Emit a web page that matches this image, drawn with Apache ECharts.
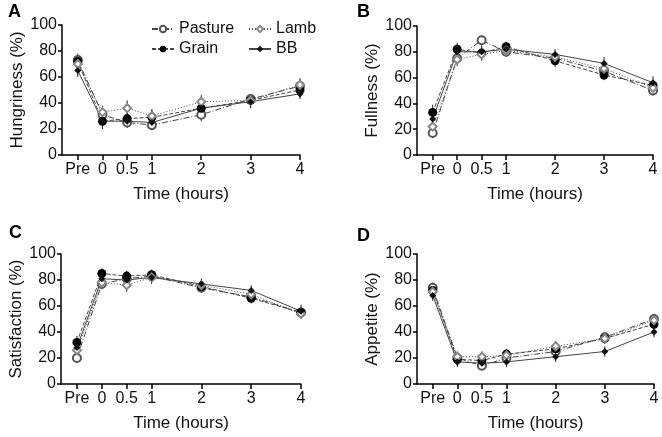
<!DOCTYPE html>
<html>
<head>
<meta charset="utf-8">
<script src="https://cdn.jsdelivr.net/npm/echarts@6/dist/echarts.min.js"></script>
<style>html,body{margin:0;padding:0;background:#fff}#c{width:662px;height:437px}</style>
</head>
<body>
<div id="c"></div>
<script>
// ---- data ----
const panelLetters = ['A', 'B', 'C', 'D'];
const yNames = ['Hungriness (%)', 'Fullness (%)', 'Satisfaction (%)', 'Appetite (%)'];
const xName = 'Time (hours)';
const times = [-0.5, 0, 0.5, 1, 2, 3, 4];
const timeLabels = ['Pre', '0', '0.5', '1', '2', '3', '4'];
const groups = ['Pasture', 'Grain', 'Lamb', 'BB'];

// Hungriness
const hungerPasture = [73, 31, 25, 23, 31, 43, 53];
const hungerGrain   = [72, 26, 28, 29, 36, 42, 50];
const hungerLamb    = [70, 33, 36, 30, 41, 42, 54];
const hungerBB      = [65, 26, 26, 25, 36, 41, 47];
const hungerPastureErr = [5, 5, 4, 4, 5, 4, 4];
const hungerGrainErr   = [5, 6, 5, 6, 5, 5, 5];
const hungerLambErr    = [5, 5, 6, 5, 5, 4, 5];
const hungerBBErr      = [5, 5, 5, 5, 5, 5, 4];
// Fullness
const fullPasture = [17, 75, 89, 80, 75, 65, 50];
const fullGrain   = [33, 82, 79, 84, 73, 62, 54];
const fullLamb    = [22, 74, 78, 81, 76, 67, 52];
const fullBB      = [28, 80, 80, 82, 78, 71, 56];
const fullPastureErr = [4, 4, 3, 4, 4, 4, 4];
const fullGrainErr   = [6, 5, 5, 4, 5, 4, 4];
const fullLambErr    = [5, 5, 5, 4, 4, 4, 4];
const fullBBErr      = [5, 5, 5, 4, 4, 5, 5];
// Satisfaction
const satPasture = [20, 77, 81, 83, 74, 67, 55];
const satGrain   = [32, 85, 83, 84, 75, 66, 55];
const satLamb    = [26, 78, 76, 82, 76, 69, 54];
const satBB      = [28, 81, 80, 82, 77, 72, 56];
const satPastureErr = [4, 4, 4, 4, 4, 4, 4];
const satGrainErr   = [5, 4, 4, 4, 4, 4, 4];
const satLambErr    = [4, 4, 5, 4, 4, 4, 4];
const satBBErr      = [5, 5, 4, 5, 4, 4, 5];
// Appetite
const appPasture = [74, 20, 14, 20, 25, 36, 50];
const appGrain   = [72, 19, 18, 23, 27, 35, 46];
const appLamb    = [71, 21, 21, 22, 29, 35, 49];
const appBB      = [68, 17, 16, 17, 21, 25, 40];
const appPastureErr = [4, 4, 3, 4, 4, 4, 4];
const appGrainErr   = [4, 4, 4, 4, 4, 4, 4];
const appLambErr    = [4, 4, 4, 4, 4, 4, 4];
const appBBErr      = [4, 4, 4, 4, 4, 4, 4];

const panelData = [
  [hungerPasture, hungerGrain, hungerLamb, hungerBB],
  [fullPasture, fullGrain, fullLamb, fullBB],
  [satPasture, satGrain, satLamb, satBB],
  [appPasture, appGrain, appLamb, appBB]
];
const panelErr = [
  [hungerPastureErr, hungerGrainErr, hungerLambErr, hungerBBErr],
  [fullPastureErr, fullGrainErr, fullLambErr, fullBBErr],
  [satPastureErr, satGrainErr, satLambErr, satBBErr],
  [appPastureErr, appGrainErr, appLambErr, appBBErr]
];

// ---- styles ----
const FONT = 'Liberation Sans, Arial, sans-serif';
const grids = [
  {left: 62, top: 25, width: 238, height: 130},
  {left: 417, top: 26, width: 236, height: 129},
  {left: 61, top: 254, width: 240, height: 130},
  {left: 417, top: 254, width: 237, height: 130}
];
const titlePos = [[8, 3], [357, 3], [9, 224], [357, 227]];
const groupStyle = {
  Pasture: {symbol: 'emptyCircle', size: 8, color: '#555', line: [6, 2, 1, 2]},
  Grain:   {symbol: 'circle', size: 9, color: '#000', line: [4, 2]},
  Lamb:    {symbol: 'emptyDiamond', size: 8, color: '#888', line: [1, 2]},
  BB:      {symbol: 'diamond', size: 7, color: '#111', line: 'solid'}
};
const xMin = -0.82;

const xAxes = [], yAxes = [], series = [], graphics = [];
grids.forEach((g, i) => {
  xAxes.push({
    type: 'value', gridIndex: i, min: xMin, max: 4,
    name: xName, nameLocation: 'middle', nameGap: 31,
    nameTextStyle: {fontSize: 17, color: '#111', fontFamily: FONT},
    axisLine: {show: true, onZero: false, lineStyle: {color: '#000', width: 1.5}},
    axisTick: {show: true, customValues: times, length: 5, lineStyle: {color: '#000', width: 1.5}},
    axisLabel: {customValues: times, margin: 7, fontSize: 16, color: '#111', fontFamily: FONT,
      formatter: v => timeLabels[times.indexOf(v)] ?? ''},
    splitLine: {show: false}
  });
  yAxes.push({
    type: 'value', gridIndex: i, min: 0, max: 100, interval: 20,
    name: yNames[i], nameLocation: 'middle', nameGap: 36, nameRotate: 90,
    nameTextStyle: {fontSize: 17, color: '#111', fontFamily: FONT},
    axisLine: {show: true, onZero: false, lineStyle: {color: '#000', width: 1.5}},
    axisTick: {show: true, length: 4, lineStyle: {color: '#000', width: 1.5}},
    axisLabel: {margin: 5, fontSize: 16, color: '#111', fontFamily: FONT},
    splitLine: {show: false}
  });
  groups.forEach((name, k) => {
    const st = groupStyle[name];
    const vals = panelData[i][k];
    const errs = panelErr[i][k];
    series.push({
      type: 'custom', xAxisIndex: i, yAxisIndex: i, silent: true, z: 2,
      data: times.map((t, j) => [t, vals[j], errs[j]]),
      encode: {x: 0, y: 1},
      renderItem: (params, api) => {
        const x = api.value(0), y = api.value(1), e = api.value(2);
        const p1 = api.coord([x, y - e]), p2 = api.coord([x, y + e]);
        return {type: 'line', shape: {x1: p1[0], y1: p1[1], x2: p2[0], y2: p2[1]},
          style: {stroke: '#222', lineWidth: 1}};
      }
    });
    series.push({
      type: 'line', name: name, xAxisIndex: i, yAxisIndex: i, z: 3,
      data: times.map((t, j) => [t, vals[j]]),
      symbol: st.symbol, symbolSize: st.size, showAllSymbol: true,
      itemStyle: {color: st.color},
      lineStyle: {color: '#444', width: 1, type: st.line},
      animation: false
    });
  });
  graphics.push({type: 'text', left: titlePos[i][0], top: titlePos[i][1],
    style: {text: panelLetters[i], font: 'bold 18px ' + FONT, fill: '#000'}});
});

const legendPos = {Pasture: [151, 21], Lamb: [248, 21], Grain: [151, 41], BB: [248, 41]};
const legends = groups.map(name => ({
  data: [name], left: legendPos[name][0], top: legendPos[name][1],
  padding: 0, itemWidth: 22, itemHeight: 8, itemGap: 5, selectedMode: false,
  textStyle: {fontSize: 16, color: '#111', fontFamily: FONT}
}));

const chart = echarts.init(document.getElementById('c'), null, {renderer: 'canvas'});
chart.setOption({
  animation: false,
  backgroundColor: '#fff',
  textStyle: {fontFamily: FONT},
  grid: grids,
  xAxis: xAxes,
  yAxis: yAxes,
  legend: legends,
  graphic: graphics,
  series: series
});
</script>
</body>
</html>
